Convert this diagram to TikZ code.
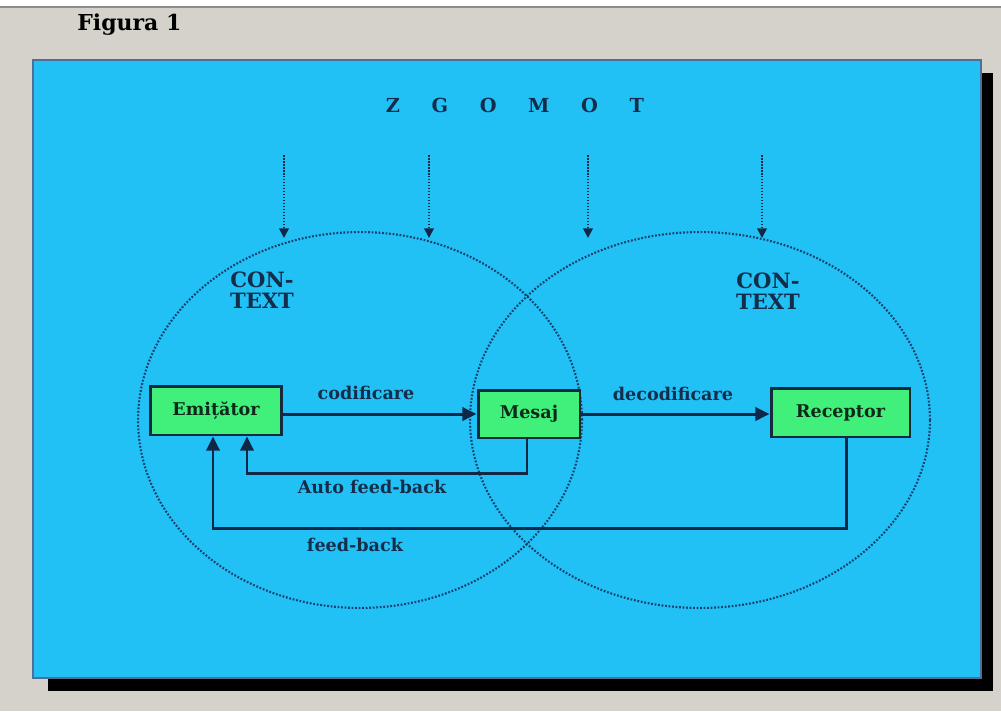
\documentclass[tikz,border=0pt]{standalone}
\usepackage{fontspec}
\setmainfont{DejaVu Serif}
\usetikzlibrary{arrows.meta, calc}
\definecolor{pagegray}{RGB}{212,210,202}
\definecolor{skyblue}{RGB}{34,193,245}
\definecolor{blueedge}{RGB}{80,110,150}
\definecolor{boxgreen}{RGB}{64,240,122}
\definecolor{boxedge}{RGB}{22,42,62}
\definecolor{boxtext}{RGB}{16,40,26}
\definecolor{flowline}{RGB}{16,40,72}
\definecolor{labeltext}{RGB}{20,45,75}
\definecolor{ctxdot}{RGB}{20,62,108}
\tikzset{
  msgbox/.style={
    draw=boxedge,
    line width=1.7pt,
    fill=boxgreen,
    inner sep=0pt,
    font=\fontsize{10}{12}\selectfont\bfseries,
    text=boxtext
  },
  flowarrow/.style={-{Triangle[length=8pt,width=7.5pt]}, line width=1.7pt, draw=flowline},
  noisearrow/.style={-{Triangle[length=5.5pt,width=5.5pt]}, line width=1pt, dash pattern=on 0.9pt off 0.8pt, draw=flowline},
  ctxline/.style={draw=ctxdot, line width=1.2pt, dash pattern=on 1pt off 1pt},
  flowlabel/.style={font=\fontsize{10}{12}\selectfont\bfseries, text=labeltext, inner sep=0pt},
  ctxlabel/.style={font=\fontsize{12}{12}\selectfont\bfseries, text=labeltext, align=center, inner sep=0pt}
}

\begin{document}
\begin{tikzpicture}[x=0.02cm,y=-0.02cm]
    \useasboundingbox (0,0) rectangle (1001,711);
    % page and panel
    \fill[pagegray] (0,0) rectangle (1001,711);
    \fill[white] (0,0) rectangle (1001,7);
    \draw[line width=1pt, black!45] (0,7) -- (1001,7);
    \fill[black] (48,73) rectangle (993,691);
    \filldraw[fill=skyblue, draw=blueedge, line width=0.6pt] (33,60) rectangle (981,678);

    \node[font=\fontsize{12.5}{14}\selectfont\bfseries, anchor=base west, inner sep=0pt] (figtitle) at (77,30) {Figura 1};
    \node[font=\fontsize{11}{12}\selectfont\bfseries, text=labeltext, inner sep=0pt] (zgomot) at (515,105)
      {Z\hspace{18pt}G\hspace{18pt}O\hspace{18pt}M\hspace{18pt}O\hspace{18pt}T};

    % context circles
    \draw[ctxline] (360,420) ellipse [x radius=4.44cm, y radius=3.76cm];
    \draw[ctxline] (700,420) ellipse [x radius=4.6cm, y radius=3.76cm];
    \node[ctxlabel] (ctxleft) at (262,290) {CON-\\TEXT};
    \node[ctxlabel] (ctxright) at (768,291) {CON-\\TEXT};

    % noise
    \foreach \nx [count=\i] in {284,429,588,762} {
      \coordinate (noise\i) at (\nx,155);
      \coordinate (hit\i) at (\nx,238);
      \draw[noisearrow] (noise\i) -- (hit\i);
    }

    % boxes
    \node[msgbox, minimum width=2.64cm, minimum height=0.98cm] (emit) at (216,410.5) {Emițător};
    \node[msgbox, minimum width=2.04cm, minimum height=0.96cm] (mesaj) at (529,414) {Mesaj};
    \node[msgbox, minimum width=2.78cm, minimum height=0.98cm] (recep) at (840.5,412.5) {Receptor};

    \draw[flowarrow] (emit.east |- mesaj.west) -- (mesaj.west);
    \draw[flowarrow] (mesaj.east) -- (mesaj.east -| recep.west);
    \node[flowlabel] (lblcod) at (366,393) {codificare};
    \node[flowlabel] (lbldecod) at (673,394) {decodificare};

    % feed-back loops
    \coordinate (autostart) at ($(mesaj.south)+(-2,0)$);
    \draw[flowarrow] (autostart) -- (autostart |- 0,473) -| ($(emit.south)+(31,0)$);
    \coordinate (fbstart) at ($(recep.south)+(6,0)$);
    \draw[flowarrow] (fbstart) -- (fbstart |- 0,528) -| ($(emit.south)+(-3,0)$);
    \node[flowlabel] (lblauto) at (372,487) {Auto feed-back};
    \node[flowlabel] (lblfb) at (355,545) {feed-back};
  \end{tikzpicture}
\end{document}
